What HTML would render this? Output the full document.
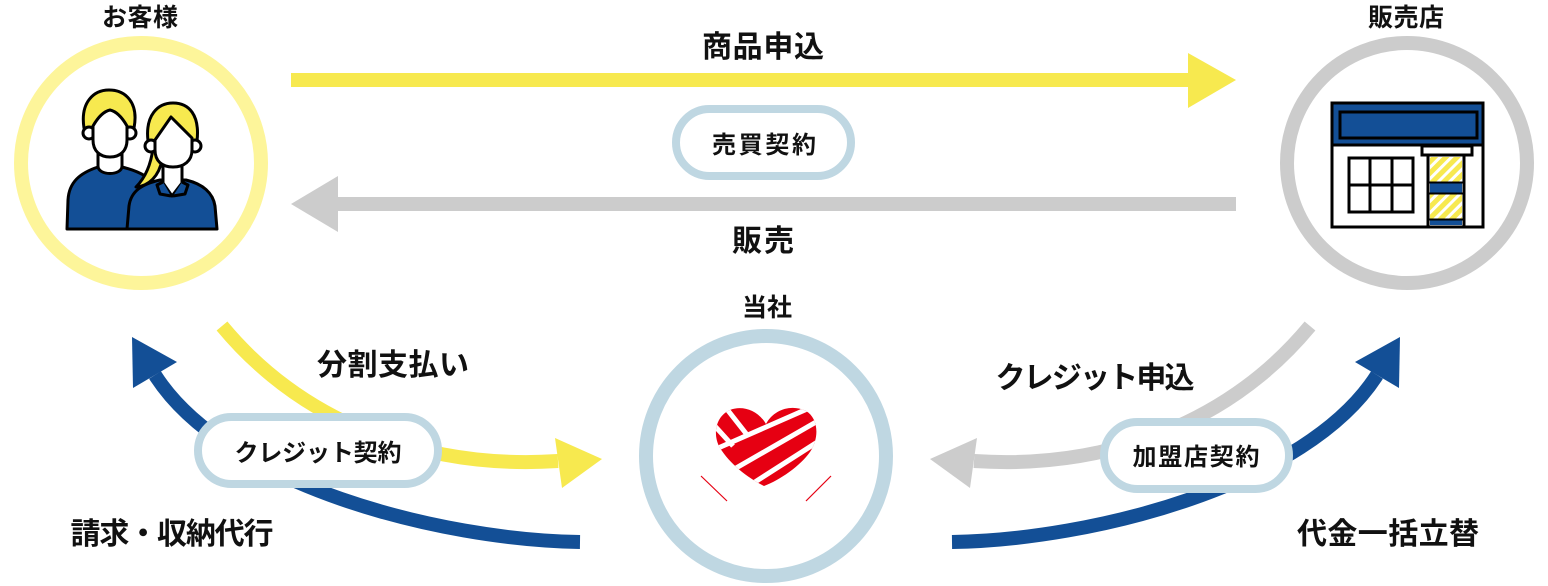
<!DOCTYPE html>
<html>
<head>
<meta charset="utf-8">
<style>
html,body{margin:0;padding:0;background:#fff;}
body{width:1548px;height:586px;overflow:hidden;}
svg{display:block;}
text{font-family:"Liberation Sans","Noto Sans CJK JP",sans-serif;font-weight:700;fill:#111;}
</style>
</head>
<body>
<svg width="1548" height="586" viewBox="0 0 1548 586" xmlns="http://www.w3.org/2000/svg">
<defs>
  <pattern id="hatch" patternUnits="userSpaceOnUse" width="8" height="8" patternTransform="rotate(-45)">
    <rect width="8" height="8" fill="#f7e94f"/>
    <rect width="8" height="3" fill="#fff"/>
  </pattern>
  <clipPath id="heartClip">
    <path d="M766,424 C758,410 742,405 730,410 C716,416 712,434 720,448 C730,464 748,478 764,486 C780,480 800,466 810,452 C820,437 818,418 806,411 C792,404 774,409 766,424 Z"/>
  </clipPath>
</defs>

<!-- circles -->
<circle cx="141" cy="163" r="120" fill="#fff" stroke="#fdf59a" stroke-width="14"/>
<circle cx="1407" cy="163" r="120" fill="#fff" stroke="#cccccc" stroke-width="14"/>
<circle cx="766" cy="456" r="120" fill="#fff" stroke="#bfd7e2" stroke-width="14"/>

<!-- node labels -->
<text x="140" y="26" font-size="25" text-anchor="middle" textLength="76" lengthAdjust="spacing">お客様</text>
<text x="1406" y="26" font-size="25" text-anchor="middle" textLength="76" lengthAdjust="spacing">販売店</text>
<text x="767" y="316" font-size="25" text-anchor="middle" textLength="50" lengthAdjust="spacing">当社</text>

<!-- top arrows -->
<rect x="291" y="73" width="900" height="14" fill="#f7e94f"/>
<polygon points="1188,53 1236,80 1188,108" fill="#f7e94f"/>
<rect x="335" y="197" width="901" height="14" fill="#cccccc"/>
<polygon points="291,204 338,176 338,232" fill="#cccccc"/>

<text x="763" y="57" font-size="30" text-anchor="middle" textLength="122" lengthAdjust="spacing">商品申込</text>
<text x="763" y="251" font-size="30" text-anchor="middle" textLength="62" lengthAdjust="spacing">販売</text>

<!-- 売買契約 pill -->
<rect x="676" y="109" width="175" height="67" rx="33.5" fill="#fff" stroke="#bfd7e2" stroke-width="8"/>
<text x="764" y="153" font-size="24" text-anchor="middle" textLength="104" lengthAdjust="spacing">売買契約</text>

<!-- lower left curves -->
<path d="M222,326 C300,420 420,470 558,461" fill="none" stroke="#f7e94f" stroke-width="14"/>
<polygon points="555,438 602,459 562,488" fill="#f7e94f"/>
<path d="M580,542 C440,540 225,485 155,375" fill="none" stroke="#134f96" stroke-width="14"/>
<polygon points="132,337 177,362 133,388" fill="#134f96"/>

<!-- lower right curves -->
<path d="M1310,326 C1232,420 1112,470 974,461" fill="none" stroke="#cccccc" stroke-width="14"/>
<polygon points="977,438 930,459 970,488" fill="#cccccc"/>
<path d="M952,542 C1092,540 1307,485 1377,375" fill="none" stroke="#134f96" stroke-width="14"/>
<polygon points="1400,337 1355,362 1399,388" fill="#134f96"/>

<!-- lower pills -->
<rect x="198" y="417" width="240" height="67" rx="33.5" fill="#fff" stroke="#bfd7e2" stroke-width="8"/>
<text x="318" y="461" font-size="24" text-anchor="middle" textLength="167" lengthAdjust="spacing">クレジット契約</text>
<rect x="1104" y="422" width="185" height="67" rx="33.5" fill="#fff" stroke="#bfd7e2" stroke-width="8"/>
<text x="1196" y="465" font-size="24" text-anchor="middle" textLength="127" lengthAdjust="spacing">加盟店契約</text>

<!-- lower labels -->
<text x="393" y="375" font-size="30" text-anchor="middle" textLength="152" lengthAdjust="spacing">分割支払い</text>
<text x="172" y="544" font-size="30" text-anchor="middle" textLength="203" lengthAdjust="spacing">請求・収納代行</text>
<text x="1095" y="388" font-size="30" text-anchor="middle" textLength="199" lengthAdjust="spacing">クレジット申込</text>
<text x="1388" y="544" font-size="30" text-anchor="middle" textLength="182" lengthAdjust="spacing">代金一括立替</text>

<!-- people icon -->
<g stroke="#000" stroke-width="3" stroke-linejoin="round">
  <path d="M67,229 L68,200 C69,182 80,173 98,167 L122,167 C138,171 150,177 156,186 L156,229 Z" fill="#134f96"/>
  <path d="M98,148 L98,166 C98,176 122,176 122,166 L122,148 Z" fill="#fff"/>
  <path d="M84,128 C80,102 94,90 109,90 C125,90 139,102 134,128 Z" fill="#f7e94f"/>
  <circle cx="89" cy="133" r="6" fill="#fff"/>
  <circle cx="130" cy="133" r="6" fill="#fff"/>
  <path d="M93,126 Q101,112 110,110 Q119,112 127,126 L127,140 C127,151 120,157 110,157 C100,157 93,151 93,140 Z" fill="#fff"/>

  <path d="M153,148 C151,164 146,177 136,187 C149,186 159,176 162,160 Z" fill="#f7e94f"/>
  <path d="M127,229 L129,206 C131,191 142,184 160,180 L186,180 C203,184 213,193 215,206 L217,229 Z" fill="#134f96"/>
  <path d="M163,160 L182,160 L182,183 L172,196 L163,183 Z" fill="#fff"/>
  <path d="M163,182 L157,185 L160,194 L171,196" fill="#134f96"/>
  <path d="M182,182 L188,185 L185,194 L173,196" fill="#134f96"/>
  <path d="M148,141 C145,115 158,103 173,103 C189,103 200,115 197,141 Z" fill="#f7e94f"/>
  <circle cx="151" cy="146" r="6" fill="#fff"/>
  <circle cx="195" cy="146" r="6" fill="#fff"/>
  <path d="M155,140 L171,117 L192,138 L192,150 C192,161 184,167 173,167 C162,167 155,161 155,150 Z" fill="#fff"/>
</g>

<!-- store icon -->
<g stroke="#000" stroke-width="3">
  <rect x="1332" y="103" width="151" height="124" fill="#fff"/>
  <rect x="1332" y="103" width="151" height="42" fill="#134f96"/>
  <rect x="1340" y="112" width="137" height="26" fill="#134f96"/>
  <rect x="1349" y="158" width="64" height="54" fill="#fff"/>
  <line x1="1370" y1="158" x2="1370" y2="212"/>
  <line x1="1392" y1="158" x2="1392" y2="212"/>
  <line x1="1349" y1="185" x2="1413" y2="185"/>
  <rect x="1428" y="155" width="36" height="72" fill="#fff"/>
  <rect x="1422" y="146" width="50" height="9" fill="#fff"/>
</g>
<rect x="1430" y="157" width="32" height="25" fill="url(#hatch)"/>
<rect x="1430" y="183" width="32" height="10" fill="#134f96"/>
<rect x="1430" y="194" width="32" height="25" fill="url(#hatch)"/>
<rect x="1430" y="220" width="32" height="5" fill="#134f96"/>
<line x1="1428" y1="182.5" x2="1464" y2="182.5" stroke="#000" stroke-width="2"/>
<line x1="1428" y1="193.5" x2="1464" y2="193.5" stroke="#000" stroke-width="2"/>
<line x1="1428" y1="219.5" x2="1464" y2="219.5" stroke="#000" stroke-width="2"/>

<!-- heart logo -->
<g clip-path="url(#heartClip)">
  <rect x="705" y="400" width="125" height="95" fill="#e60012"/>
  <g stroke="#fff" stroke-width="5" fill="none">
    <line x1="700" y1="456" x2="830" y2="399"/>
    <line x1="710" y1="483" x2="830" y2="414"/>
    <line x1="730" y1="498" x2="830" y2="434"/>
    <line x1="726" y1="408" x2="748" y2="436"/>
    <line x1="713" y1="424" x2="733" y2="446"/>
  </g>
</g>
<line x1="701" y1="476" x2="727" y2="501" stroke="#e60012" stroke-width="1.2"/>
<line x1="831" y1="476" x2="806" y2="501" stroke="#e60012" stroke-width="1.2"/>
</svg>
</body>
</html>
